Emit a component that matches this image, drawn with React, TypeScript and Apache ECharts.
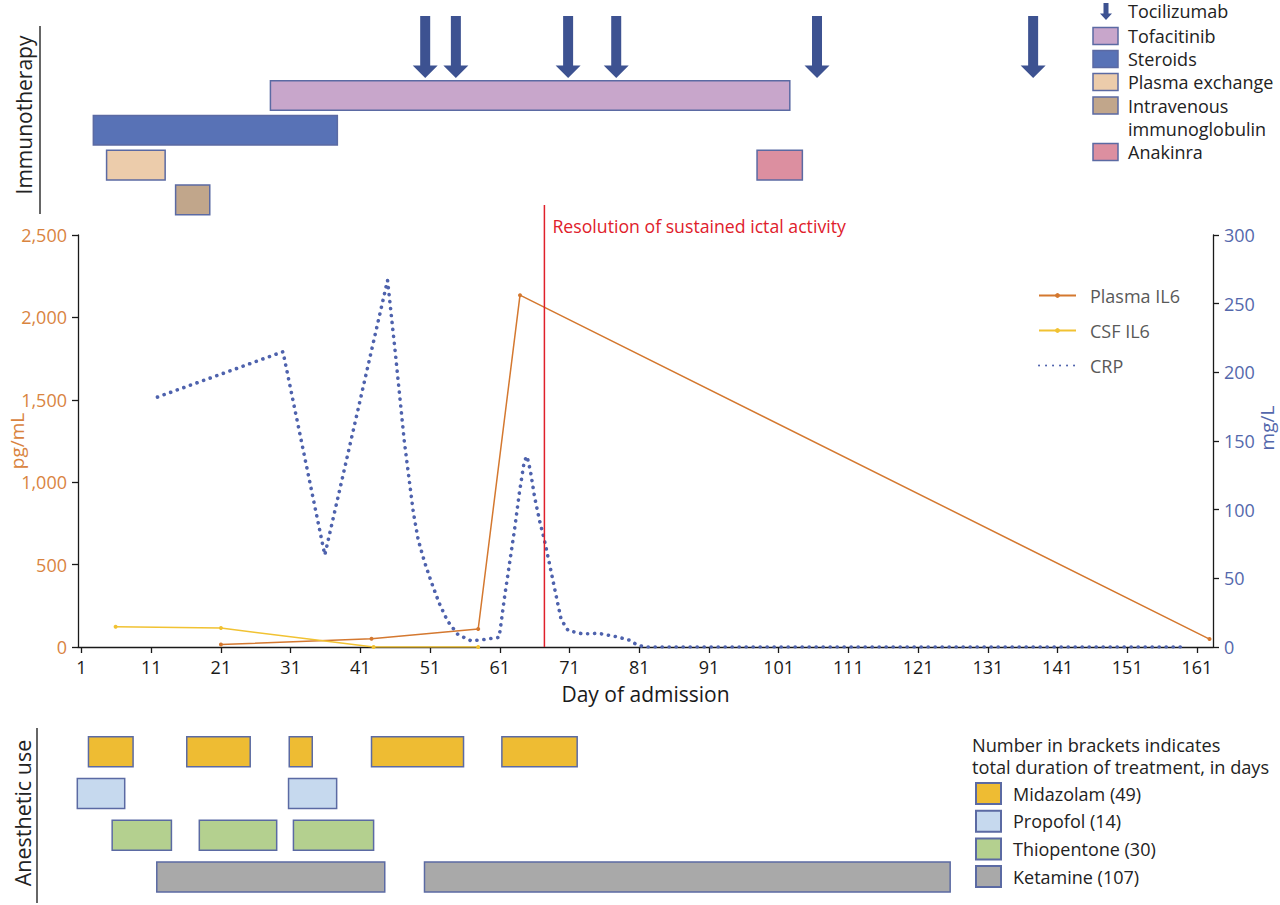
import React, { useEffect, useRef } from "react";
import * as echarts from "echarts";

// ---------- data ----------
const X_MIN = 0.5;
const X_MAX = 163.3;
const xTickDays = [1, 11, 21, 31, 41, 51, 61, 71, 81, 91, 101, 111, 121, 131, 141, 151, 161];

const plasmaDays = [21, 42.6, 57.9, 63.9, 162.8];
const plasmaIL6 = [15, 50, 109, 2135, 48];

const csfDays = [5.9, 21, 42.9, 57.9];
const csfIL6 = [123, 115, 0, 0];

const crpDays = [
  11.9, 29.9, 35.9, 44.9, 46.0, 47.3, 48.0, 48.6, 49.3, 50.2, 51.2, 52.3, 53.5, 55.0, 56.9, 58.8, 60.9,
  61.2, 61.7, 62.4, 63.1, 63.8, 64.5, 64.9, 65.4, 66.0, 66.7, 67.3, 67.9, 68.6, 69.3, 69.8, 70.8, 72.9,
  75.1, 77.7, 79.6, 80.7, 81.8, 159,
];
const crpValues = [
  182, 215, 67, 267, 215, 150, 122, 98, 78, 62, 47, 32, 19, 9, 4.5, 5.5, 7,
  18, 37, 61, 85, 112, 135, 139, 128, 109, 92, 80, 66, 49, 32, 20, 12, 9.5,
  10, 7.5, 5, 1.5, 0, 0,
];

const ictalResolutionDay = 67.4;

const topRows = ["IVIG", "Plasma exchange / Anakinra", "Steroids", "Tofacitinib", "Tocilizumab"];
const tocilizumabDays = [50.3, 54.7, 70.8, 77.7, 106.5, 137.5];
const tofacitinibPeriods = [[28.1, 102.6]];
const steroidPeriods = [[2.7, 37.7]];
const plasmaExchangePeriods = [[4.6, 13.0]];
const ivigPeriods = [[14.5, 19.4]];
const anakinraPeriods = [[97.9, 104.4]];

const anestheticRows = ["Midazolam", "Propofol", "Thiopentone", "Ketamine"];
const anestheticTotals = [49, 14, 30, 107];
const midazolamPeriods = [[2.0, 8.4], [16.1, 25.2], [30.8, 34.1], [42.6, 55.8], [61.3, 72.1]];
const propofolPeriods = [[0.4, 7.2], [30.7, 37.6]];
const thiopentonePeriods = [[5.4, 13.9], [17.9, 29.0], [31.4, 42.9]];
const ketaminePeriods = [[11.8, 44.5], [50.2, 125.6]];

// ---------- styles ----------
const FONT = '"Open Sans", "Noto Sans", sans-serif';
const ORANGE = "#d4782f";
const ORANGE_TEXT = "#d9843f";
const YELLOW = "#f1c232";
const CRP_BLUE = "#4e62ad";
const BLUE_TEXT = "#5468ac";
const RED = "#e0202b";
const ARROW = "#3d5291";
const BORDER = "#5b6aa3";
const C_TOFA = "#c8a6cb";
const C_STER = "#5872b6";
const C_PLEX = "#ecccab";
const C_IVIG = "#c1a68b";
const C_ANAK = "#dc8fa0";
const C_MIDA = "#eebc33";
const C_PROP = "#c6d9ee";
const C_THIO = "#b4d08f";
const C_KETA = "#a9a9a9";
const AXIS_COLOR = "#1a1a1a";

function rangeSeries(
  name: string,
  row: string,
  periods: number[][],
  color: string,
  xAxisIndex: number,
  yAxisIndex: number,
  ratio: number
) {
  return {
    type: "custom",
    name,
    xAxisIndex,
    yAxisIndex,
    itemStyle: { color, borderColor: BORDER, borderWidth: 1.5 },
    encode: { x: [1, 2], y: 0 },
    data: periods.map(([s, e]) => [row, s, e]),
    renderItem: (params: any, api: any) => {
      const r = api.value(0);
      const a = api.coord([api.value(1), r]);
      const b = api.coord([api.value(2), r]);
      const h = api.size([0, 1])[1] * ratio;
      return {
        type: "rect",
        shape: { x: a[0], y: a[1] - h / 2, width: b[0] - a[0], height: h },
        style: { fill: color, stroke: BORDER, lineWidth: 1.5 },
      };
    },
  };
}

export default function App() {
  const ref = useRef<HTMLDivElement>(null);

  useEffect(() => {
    if (!ref.current) return;
    const chart = echarts.init(ref.current, undefined, { renderer: "svg" });

    const hiddenX = (gridIndex: number) => ({
      type: "value",
      gridIndex,
      min: X_MIN,
      max: X_MAX,
      show: false,
      splitLine: { show: false },
    });

    const legendBox = (y: number, color: string) => ({
      type: "rect",
      shape: { x: 1093, y: y - 8.5, width: 25, height: 17 },
      style: { fill: color, stroke: BORDER, lineWidth: 1.5 },
    });
    const legendText = (y: number, text: string) => ({
      type: "text",
      x: 1128,
      y,
      style: { text, fontSize: 18, lineHeight: 20, fontFamily: FONT, fill: "#222", verticalAlign: "middle" },
    });
    const noteText = (y: number, text: string) => ({
      type: "text",
      x: 972,
      y,
      style: { text, fontSize: 18.2, lineHeight: 20, fontFamily: FONT, fill: "#222", verticalAlign: "middle" },
    });

    const gridBase = { left: 78, right: 67, outerBoundsMode: "none", containLabel: false };

    const option: any = {
      animation: false,
      backgroundColor: "#ffffff",
      textStyle: { fontFamily: FONT },
      grid: [
        { ...gridBase, top: 43.3, height: 174 },
        { ...gridBase, top: 235, height: 412 },
        { ...gridBase, top: 731, height: 166.8 },
      ],
      xAxis: [
        hiddenX(0),
        {
          type: "value",
          gridIndex: 1,
          min: X_MIN,
          max: X_MAX,
          name: "Day of admission",
          nameLocation: "middle",
          nameGap: 36,
          nameMoveOverlap: false,
          nameTextStyle: { fontSize: 21, color: AXIS_COLOR, fontFamily: FONT },
          axisLine: { show: true, lineStyle: { color: AXIS_COLOR, width: 1.3 } },
          axisTick: {
            show: true,
            customValues: xTickDays,
            length: 6,
            lineStyle: { color: AXIS_COLOR, width: 1.3 },
          },
          axisLabel: {
            customValues: xTickDays,
            fontSize: 18,
            color: AXIS_COLOR,
            margin: 11,
            fontFamily: FONT,
          },
          splitLine: { show: false },
        },
        hiddenX(2),
      ],
      yAxis: [
        { type: "category", gridIndex: 0, data: topRows, show: false },
        {
          type: "value",
          gridIndex: 1,
          position: "left",
          min: 0,
          max: 2500,
          interval: 500,
          name: "pg/mL",
          nameLocation: "middle",
          nameRotate: 90,
          nameGap: 51,
          nameMoveOverlap: false,
          nameTextStyle: { fontSize: 19, lineHeight: 20, color: ORANGE_TEXT, fontFamily: FONT },
          axisLine: { show: true, lineStyle: { color: AXIS_COLOR, width: 1.3 } },
          axisTick: { show: true, length: 6, lineStyle: { color: AXIS_COLOR, width: 1.3 } },
          axisLabel: {
            fontSize: 18,
            color: ORANGE_TEXT,
            margin: 11,
            fontFamily: FONT,
            formatter: (v: number) => v.toLocaleString("en-US"),
          },
          splitLine: { show: false },
        },
        {
          type: "value",
          gridIndex: 1,
          position: "right",
          min: 0,
          max: 300,
          interval: 50,
          name: "mg/L",
          nameLocation: "middle",
          nameRotate: 90,
          nameGap: 44,
          nameMoveOverlap: false,
          nameTextStyle: {
            fontSize: 19,
            lineHeight: 20,
            color: BLUE_TEXT,
            fontFamily: FONT,
            padding: [0, 0, 0, 26],
          },
          axisLine: { show: true, lineStyle: { color: AXIS_COLOR, width: 1.3 } },
          axisTick: { show: true, length: 6, lineStyle: { color: AXIS_COLOR, width: 1.3 } },
          axisLabel: { fontSize: 18, color: BLUE_TEXT, margin: 11, fontFamily: FONT },
          splitLine: { show: false },
        },
        { type: "category", gridIndex: 2, data: anestheticRows, inverse: true, show: false },
      ],
      legend: [
        {
          data: ["Plasma IL6", "CSF IL6", { name: "CRP", itemStyle: { opacity: 0 } }],
          orient: "vertical",
          left: 1038,
          top: 285,
          itemWidth: 37,
          itemHeight: 6,
          itemGap: 14,
          padding: 0,
          selectedMode: false,
          textStyle: { fontFamily: FONT, fontSize: 18, color: "#595959", lineHeight: 21, padding: [0, 0, 0, 9] },
        },
        {
          data: anestheticRows,
          formatter: (name: string) => `${name} (${anestheticTotals[anestheticRows.indexOf(name)]})`,
          orient: "vertical",
          left: 975,
          top: 782,
          icon: "rect",
          itemWidth: 25,
          itemHeight: 21,
          itemGap: 4.7,
          padding: 0,
          selectedMode: false,
          textStyle: { fontFamily: FONT, fontSize: 18, color: "#222", lineHeight: 21, padding: [0, 0, 0, 7] },
        },
      ],
      graphic: [
        {
          type: "text",
          x: 24,
          y: 115,
          rotation: Math.PI / 2,
          style: { text: "Immunotherapy", fontSize: 21, fontFamily: FONT, fill: "#222", align: "center", verticalAlign: "middle" },
        },
        { type: "line", shape: { x1: 40, y1: 26, x2: 40, y2: 214 }, style: { stroke: "#333", lineWidth: 1.5 } },
        {
          type: "text",
          x: 22,
          y: 813,
          rotation: Math.PI / 2,
          style: { text: "Anesthetic use", fontSize: 21.5, fontFamily: FONT, fill: "#222", align: "center", verticalAlign: "middle" },
        },
        { type: "line", shape: { x1: 37, y1: 728, x2: 37, y2: 903 }, style: { stroke: "#333", lineWidth: 1.5 } },
        // top legend
        {
          type: "polygon",
          shape: {
            points: [
              [1103.5, 3], [1108.5, 3], [1108.5, 13.5], [1112, 13.5], [1106, 20], [1100, 13.5], [1103.5, 13.5],
            ],
          },
          style: { fill: ARROW },
        },
        legendText(11, "Tocilizumab"),
        legendBox(36, C_TOFA),
        legendText(36, "Tofacitinib"),
        legendBox(59, C_STER),
        legendText(59, "Steroids"),
        legendBox(82, C_PLEX),
        legendText(82, "Plasma exchange"),
        legendBox(105.5, C_IVIG),
        legendText(106, "Intravenous"),
        legendText(129, "immunoglobulin"),
        legendBox(152, C_ANAK),
        legendText(152, "Anakinra"),
        // bottom legend note
        noteText(745, "Number in brackets indicates"),
        noteText(767, "total duration of treatment, in days"),
      ],
      series: [
        // top panel
        rangeSeries("Tofacitinib", "Tofacitinib", tofacitinibPeriods, C_TOFA, 0, 0, 0.85),
        rangeSeries("Steroids", "Steroids", steroidPeriods, C_STER, 0, 0, 0.85),
        rangeSeries("Plasma exchange", "Plasma exchange / Anakinra", plasmaExchangePeriods, C_PLEX, 0, 0, 0.85),
        rangeSeries("Intravenous immunoglobulin", "IVIG", ivigPeriods, C_IVIG, 0, 0, 0.85),
        rangeSeries("Anakinra", "Plasma exchange / Anakinra", anakinraPeriods, C_ANAK, 0, 0, 0.85),
        {
          type: "custom",
          name: "Tocilizumab",
          xAxisIndex: 0,
          yAxisIndex: 0,
          encode: { x: 0, y: 1 },
          data: tocilizumabDays.map((d) => [d, "Tocilizumab"]),
          renderItem: (params: any, api: any) => {
            const p = api.coord([api.value(0), api.value(1)]);
            const band = api.size([0, 1])[1];
            const x = p[0];
            const tip = p[1] + band / 2;
            const top = tip - 62;
            const headTop = tip - 12.5;
            return {
              type: "polygon",
              shape: {
                points: [
                  [x - 5, top], [x + 5, top], [x + 5, headTop], [x + 12.5, headTop],
                  [x, tip], [x - 12.5, headTop], [x - 5, headTop],
                ],
              },
              style: { fill: ARROW },
            };
          },
        },
        // main chart
        {
          type: "custom",
          name: "Resolution of sustained ictal activity",
          xAxisIndex: 1,
          yAxisIndex: 1,
          encode: { x: 0, y: 1 },
          data: [[ictalResolutionDay, 0]],
          z: 5,
          renderItem: (params: any, api: any) => {
            const bottom = api.coord([api.value(0), 0]);
            const top = api.coord([api.value(0), 2500]);
            return {
              type: "group",
              children: [
                {
                  type: "line",
                  shape: { x1: bottom[0], y1: bottom[1], x2: bottom[0], y2: top[1] - 30 },
                  style: { stroke: RED, lineWidth: 1.5 },
                },
                {
                  type: "text",
                  x: bottom[0] + 8,
                  y: top[1] - 9,
                  style: {
                    text: "Resolution of sustained ictal activity",
                    fill: RED,
                    fontSize: 17.7,
                    fontFamily: FONT,
                    verticalAlign: "middle",
                  },
                },
              ],
            };
          },
        },
        {
          type: "line",
          name: "Plasma IL6",
          xAxisIndex: 1,
          yAxisIndex: 1,
          data: plasmaDays.map((d, i) => [d, plasmaIL6[i]]),
          symbol: "circle",
          symbolSize: 4,
          showSymbol: true,
          lineStyle: { color: ORANGE, width: 1.5 },
          itemStyle: { color: ORANGE },
          z: 3,
        },
        {
          type: "line",
          name: "CSF IL6",
          xAxisIndex: 1,
          yAxisIndex: 1,
          data: csfDays.map((d, i) => [d, csfIL6[i]]),
          symbol: "circle",
          symbolSize: 4,
          showSymbol: true,
          lineStyle: { color: YELLOW, width: 1.5 },
          itemStyle: { color: YELLOW },
          z: 3,
        },
        {
          type: "line",
          name: "CRP",
          xAxisIndex: 1,
          yAxisIndex: 2,
          data: crpDays.map((d, i) => [d, crpValues[i]]),
          symbol: "none",
          lineStyle: { color: CRP_BLUE, width: 3.6, type: [0.1, 6.9], cap: "round" },
          itemStyle: { color: CRP_BLUE },
          z: 4,
        },
        // bottom panel
        rangeSeries("Midazolam", "Midazolam", midazolamPeriods, C_MIDA, 2, 3, 0.72),
        rangeSeries("Propofol", "Propofol", propofolPeriods, C_PROP, 2, 3, 0.72),
        rangeSeries("Thiopentone", "Thiopentone", thiopentonePeriods, C_THIO, 2, 3, 0.72),
        rangeSeries("Ketamine", "Ketamine", ketaminePeriods, C_KETA, 2, 3, 0.72),
      ],
    };

    chart.setOption(option);
    return () => chart.dispose();
  }, []);

  return (
    <div
      ref={ref}
      style={{ position: "fixed", left: 0, top: 0, width: 1280, height: 905, background: "#fff" }}
    />
  );
}
